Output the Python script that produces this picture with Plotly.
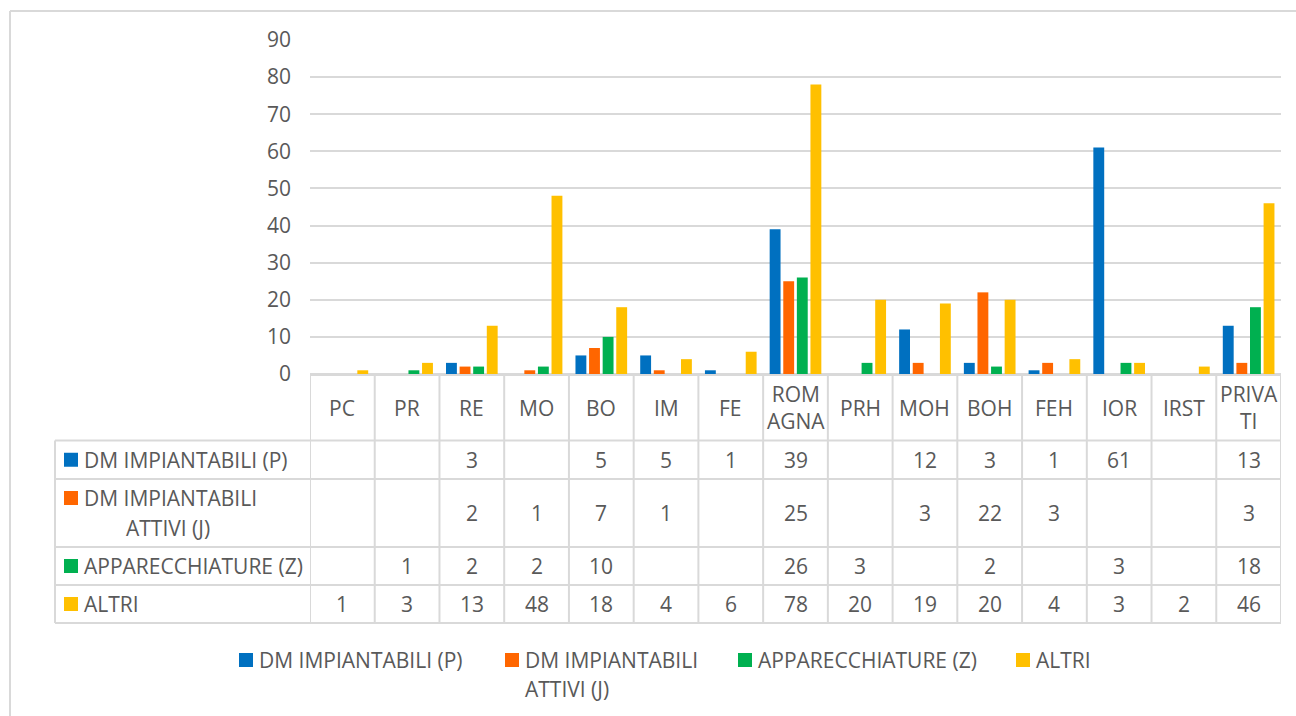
import plotly.graph_objects as go

# Categories (table header / x axis)
categories = ["PC", "PR", "RE", "MO", "BO", "IM", "FE", "ROMAGNA", "PRH",
              "MOH", "BOH", "FEH", "IOR", "IRST", "PRIVATI"]
header_labels = ["PC", "PR", "RE", "MO", "BO", "IM", "FE", "ROM<br>AGNA", "PRH",
                 "MOH", "BOH", "FEH", "IOR", "IRST", "PRIVA<br>TI"]

# Series values (None = empty cell)
dm_impiantabili = [None, None, 3, None, 5, 5, 1, 39, None, 12, 3, 1, 61, None, 13]
dm_attivi = [None, None, 2, 1, 7, 1, None, 25, None, 3, 22, 3, None, None, 3]
apparecchiature = [None, 1, 2, 2, 10, None, None, 26, 3, None, 2, None, 3, None, 18]
altri = [1, 3, 13, 48, 18, 4, 6, 78, 20, 19, 20, 4, 3, 2, 46]

series_names = ["DM IMPIANTABILI (P)", "DM IMPIANTABILI ATTIVI (J)",
                "APPARECCHIATURE (Z)", "ALTRI"]
series_labels = ["DM IMPIANTABILI (P)", "DM IMPIANTABILI<br>ATTIVI (J)",
                 "APPARECCHIATURE (Z)", "ALTRI"]
series_values = [dm_impiantabili, dm_attivi, apparecchiature, altri]
colors = ["#0070C0", "#FF6600", "#00B050", "#FFC000"]

y_ticks = [0, 10, 20, 30, 40, 50, 60, 70, 80, 90]

W, H = 1296, 716
L, R, T, B = 310, 15, 40, 342
PW, PH = W - L - R, H - T - B
TEXT = "#595959"
GRID = "#D9D9D9"
FONT = "Open Sans"
TABLE_SIZE = 21
LEGEND_SIZE = 21


def px(x):
    return (x - L) / PW


def py(y):
    return (H - B - y) / PH


fig = go.Figure()
n = len(categories)
for name, vals, col in zip(series_names, series_values, colors):
    fig.add_trace(go.Bar(
        x=list(range(n)), y=vals, name=name,
        marker=dict(color=col, line=dict(width=0)),
        showlegend=False,
    ))

shapes = []
annotations = []
line_style = dict(color=GRID, width=2)

# Data table geometry (pixel rows)
row_edges = [375, 440.5, 479, 547, 585, 623]
row_centers = [(row_edges[i] + row_edges[i + 1]) / 2 for i in range(5)]

# vertical column lines of the table
for i in range(n + 1):
    shapes.append(dict(type="line", xref="x", yref="paper",
                       x0=i - 0.5, x1=i - 0.5,
                       y0=py(row_edges[0]), y1=py(row_edges[-1]), line=line_style))
# left column boundary
shapes.append(dict(type="line", xref="paper", yref="paper",
                   x0=px(55), x1=px(55), y0=py(row_edges[1]), y1=py(row_edges[-1]),
                   line=line_style))
# horizontal table lines
shapes.append(dict(type="line", xref="paper", yref="paper",
                   x0=0, x1=1, y0=py(row_edges[0]), y1=py(row_edges[0]), line=line_style))
for ye in row_edges[1:]:
    shapes.append(dict(type="line", xref="paper", yref="paper",
                       x0=px(55), x1=1, y0=py(ye), y1=py(ye), line=line_style))

# header labels
for i, lab in enumerate(header_labels):
    annotations.append(dict(xref="x", yref="paper", x=i, y=py(row_centers[0]),
                            text=lab, showarrow=False, yanchor="middle",
                            font=dict(family=FONT, size=TABLE_SIZE, color=TEXT)))

# series rows: key, name and values
for r, (lab, vals, col) in enumerate(zip(series_labels, series_values, colors)):
    yc = row_centers[r + 1]
    lines = lab.split("<br>")
    key_y = yc - 15 if len(lines) > 1 else yc
    shapes.append(dict(type="rect", xref="paper", yref="paper",
                       x0=px(64), x1=px(78), y0=py(key_y + 7), y1=py(key_y - 7),
                       fillcolor=col, line=dict(width=0)))
    if len(lines) == 1:
        annotations.append(dict(xref="paper", yref="paper",
                                x=px(82), y=py(yc), xanchor="left", yanchor="middle",
                                text=lab, showarrow=False,
                                font=dict(family=FONT, size=TABLE_SIZE, color=TEXT)))
    else:
        # wrapped name: continuation line indented under the first one
        for k, (part, x_left) in enumerate(zip(lines, [82, 124])):
            annotations.append(dict(xref="paper", yref="paper",
                                    x=px(x_left), y=py(yc - 15 + 30 * k),
                                    xanchor="left", yanchor="middle",
                                    text=part, showarrow=False,
                                    font=dict(family=FONT, size=TABLE_SIZE, color=TEXT)))
    for i, v in enumerate(vals):
        if v is None:
            continue
        annotations.append(dict(xref="x", yref="paper", x=i, y=py(yc),
                                text=str(v), showarrow=False, yanchor="middle",
                                font=dict(family=FONT, size=TABLE_SIZE, color=TEXT)))

# legend below the table
legend_pos = [239, 505, 738, 1016]
legend_y = 660
for lab, col, lx in zip(series_labels, colors, legend_pos):
    shapes.append(dict(type="rect", xref="paper", yref="paper",
                       x0=px(lx), x1=px(lx + 14), y0=py(legend_y + 7), y1=py(legend_y - 7),
                       fillcolor=col, line=dict(width=0)))
    for k, part in enumerate(lab.split("<br>")):
        annotations.append(dict(xref="paper", yref="paper",
                                x=px(lx + 18), y=py(legend_y + 29 * k),
                                xanchor="left", yanchor="middle",
                                text=part, showarrow=False,
                                font=dict(family=FONT, size=LEGEND_SIZE, color=TEXT)))

# chart frame (left and top edges)
shapes.append(dict(type="line", xref="paper", yref="paper",
                   x0=px(10), x1=px(10), y0=py(11), y1=py(H + 5), line=line_style))
shapes.append(dict(type="line", xref="paper", yref="paper",
                   x0=px(10), x1=px(W + 5), y0=py(11), y1=py(11), line=line_style))

fig.update_layout(
    width=W, height=H,
    margin=dict(l=L, r=R, t=T, b=B),
    paper_bgcolor="white", plot_bgcolor="white",
    barmode="group", bargap=0.16, bargroupgap=0.2,
    xaxis=dict(range=[-0.5, n - 0.5], showticklabels=False, showgrid=False,
               zeroline=False, showline=False, ticks=""),
    yaxis=dict(range=[0, 90], tickvals=y_ticks, showgrid=True, gridcolor=GRID,
               gridwidth=2, zeroline=True, zerolinecolor=GRID, zerolinewidth=2,
               showline=False, ticks="", ticklabelstandoff=18,
               tickfont=dict(family=FONT, size=21, color=TEXT)),
    shapes=shapes,
    annotations=annotations,
    font=dict(family=FONT, color=TEXT),
)

fig.write_html("out.html")
